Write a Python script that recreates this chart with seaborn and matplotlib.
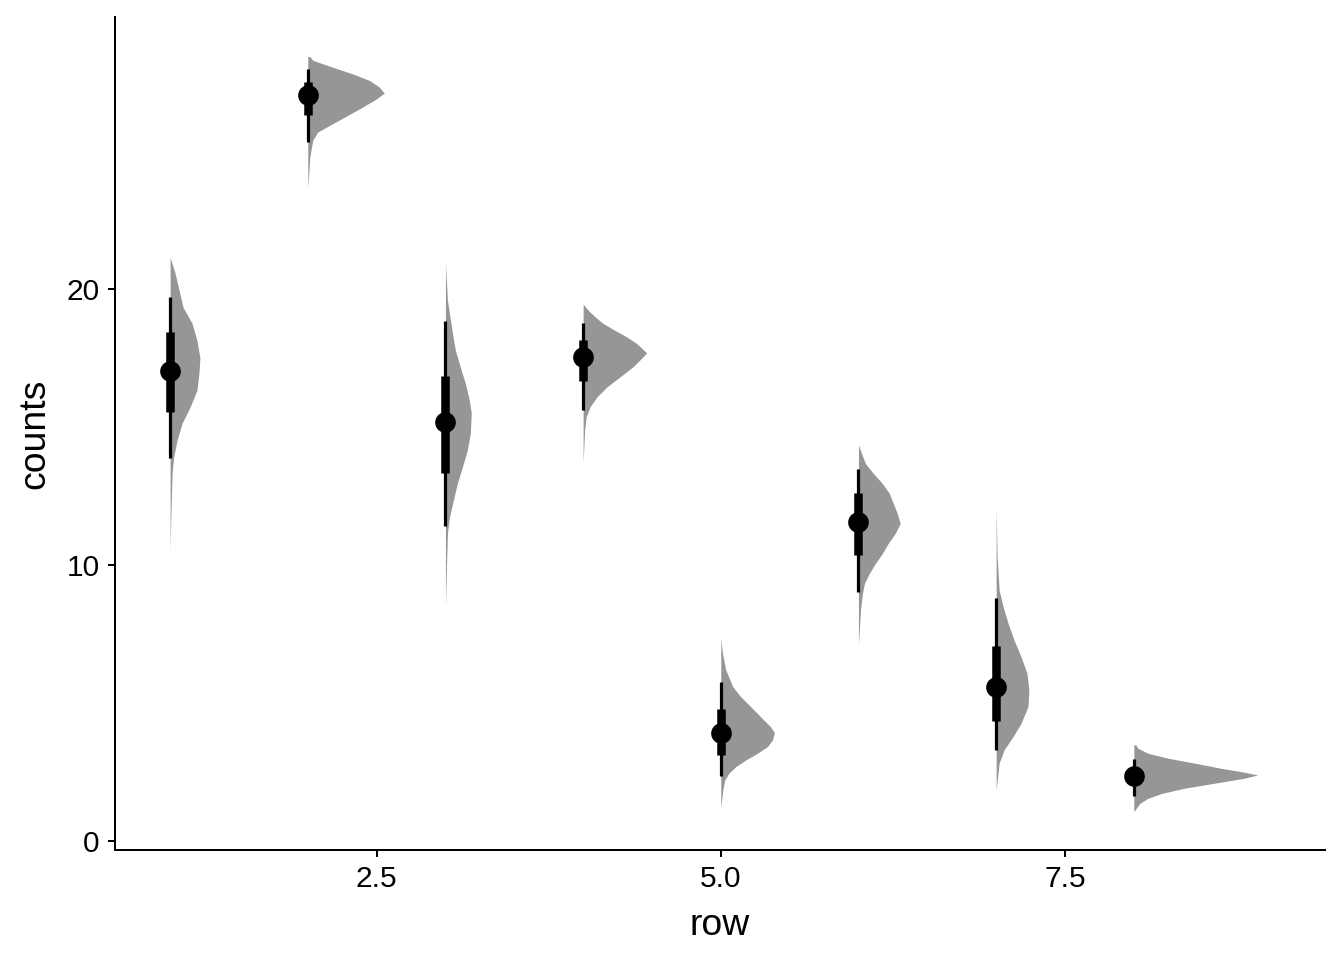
import numpy as np
import pandas as pd
import matplotlib
matplotlib.use("Agg")
import matplotlib.pyplot as plt
import seaborn as sns

# ---- data ----
rows = [1, 2, 3, 4, 5, 6, 7, 8]
median = [17.03, 27.03, 15.17, 17.55, 3.90, 11.57, 5.59, 2.37]
q66_lo = [15.54, 26.30, 13.34, 16.68, 3.12, 10.36, 4.35, 2.10]
q66_hi = [18.44, 27.51, 16.86, 18.15, 4.77, 12.63, 7.07, 2.57]
q95_lo = [13.88, 25.34, 11.41, 15.62, 2.36, 9.01, 3.30, 1.61]
q95_hi = [19.71, 27.97, 18.84, 18.76, 5.77, 13.50, 8.82, 2.96]

# slab outlines: counts value and relative density
y_r1 = [21.16, 20.58, 19.35, 18.77, 18.15, 17.50, 16.96, 16.34, 15.72, 15.14, 14.53, 13.91, 13.33, 12.10, 10.54]
d_r1 = [0, 5, 13, 22, 27, 30, 29, 27, 20, 12, 7, 3.5, 2, 1, 0]
y_r2 = [28.44, 28.30, 28.05, 27.81, 27.57, 27.33, 27.11, 26.90, 26.60, 26.30, 26.00, 25.70, 25.40, 24.79, 24.20, 23.66]
d_r2 = [2, 5, 25, 45, 62, 72, 77, 69, 55, 40, 25, 10, 5, 2, 1, 0]
y_r3 = [20.94, 19.60, 18.41, 17.79, 17.17, 16.59, 15.98, 15.51, 14.78, 14.17, 13.55, 12.97, 12.36, 11.74, 11.16, 9.93, 8.48]
d_r3 = [0, 2, 7, 10, 15, 20, 24, 26, 25, 22, 17, 12, 8, 4, 2, 1, 0]
y_r4 = [19.46, 19.24, 19.00, 18.76, 18.51, 18.27, 18.03, 17.69, 17.43, 17.18, 16.82, 16.46, 16.10, 15.74, 15.37, 14.89, 13.70]
d_r4 = [0, 5, 12, 20, 32, 44, 54, 64, 57, 50, 37, 24, 14, 7, 3, 1.5, 0]
y_r5 = [7.34, 6.80, 6.20, 5.59, 5.23, 4.87, 4.50, 4.14, 3.92, 3.66, 3.42, 3.18, 2.93, 2.69, 2.45, 2.21, 1.85, 1.20]
d_r5 = [0, 1.7, 5, 12, 20, 30, 40, 50, 54, 52, 47, 37, 25, 15, 8, 4, 2, 0]
y_r6 = [14.35, 14.05, 13.68, 13.32, 12.96, 12.60, 12.24, 11.87, 11.51, 11.15, 10.79, 10.42, 10.06, 9.70, 9.34, 8.97, 8.37, 7.10]
d_r6 = [0, 3, 7, 15, 24, 31, 35, 39, 42, 37, 30, 24, 17, 11, 6, 4, 2, 0]
y_r7 = [12.11, 10.30, 9.09, 8.49, 7.89, 7.28, 6.68, 6.08, 5.47, 4.87, 4.26, 3.78, 3.30, 2.82, 2.33, 1.85]
d_r7 = [0, 1, 3, 7, 12, 18, 25, 31, 33, 32, 25, 17, 8, 3, 1.5, 0]
y_r8 = [3.48, 3.36, 3.18, 3.00, 2.82, 2.63, 2.51, 2.39, 2.27, 2.09, 1.91, 1.72, 1.54, 1.36, 1.06]
d_r8 = [2, 4, 14, 34, 61, 88, 108, 124.7, 111, 81, 51, 28, 14, 6, 0]

slab_y = [y_r1, y_r2, y_r3, y_r4, y_r5, y_r6, y_r7, y_r8]
slab_d = [d_r1, d_r2, d_r3, d_r4, d_r5, d_r6, d_r7, d_r8]

x_ticks = [2.5, 5.0, 7.5]
y_ticks = [0, 10, 20]

# ---- style ----
sns.set_theme(style="ticks")
plt.rcParams["font.family"] = ["Liberation Sans", "DejaVu Sans"]
plt.rcParams["axes.linewidth"] = 0.75

fig = plt.figure(figsize=(7, 5), dpi=192)
ax = fig.add_axes([0.0856, 0.1146, 0.9004, 0.8674])

slab_color = "#969696"
dmax = max(max(d) for d in slab_d)
scale = 0.9
for r, ys, ds in zip(rows, slab_y, slab_d):
    ys = np.asarray(ys, float)
    w = np.asarray(ds, float) / dmax * scale
    ax.fill_betweenx(ys, r, r + w, color=slab_color, linewidth=0, zorder=1)

ax.vlines(rows, q95_lo, q95_hi, color="black", linewidth=1.2, zorder=3)
ax.vlines(rows, q66_lo, q66_hi, color="black", linewidth=3.2, zorder=3)

pts = pd.DataFrame({"row": rows, "counts": median})
sns.scatterplot(data=pts, x="row", y="counts", color="black", s=60,
                linewidth=0, zorder=4, ax=ax)

ax.set_xlim(0.6, 9.39)
ax.set_ylim(-0.33, 29.86)
ax.set_xticks(x_ticks)
ax.set_xticklabels(["2.5", "5.0", "7.5"])
ax.set_yticks(y_ticks)
ax.tick_params(axis="both", labelsize=11.2, colors="black", length=2.7,
               width=0.75, pad=3)
ax.set_xlabel("row", fontsize=14, color="black", labelpad=5.5)
ax.set_ylabel("counts", fontsize=14, color="black", labelpad=5.5)
for s in ["top", "right"]:
    ax.spines[s].set_visible(False)
for s in ["left", "bottom"]:
    ax.spines[s].set_color("black")

fig.savefig("out.png", dpi=192)
